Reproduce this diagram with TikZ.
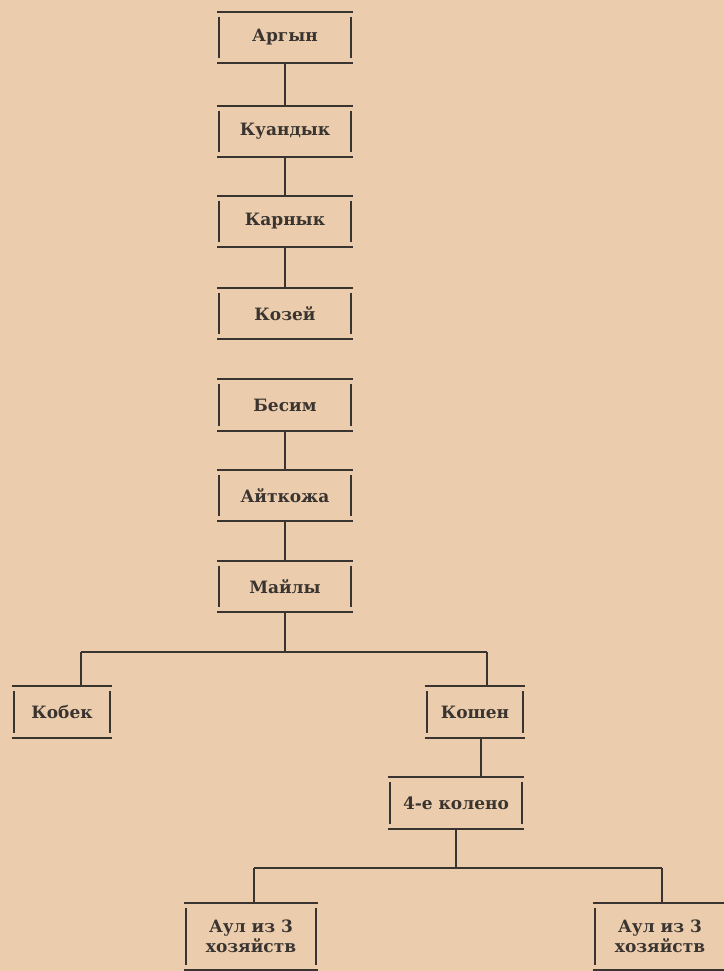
\documentclass[tikz,border=0pt]{standalone}
\usepackage{fontspec}
\setmainfont{DejaVu Serif}
\usetikzlibrary{positioning}
\definecolor{paper}{RGB}{235,205,173}
\definecolor{ink}{RGB}{58,52,48}
\tikzset{
  kinline/.style={draw=ink, line width=1pt},
  link/.style={draw=ink, line width=1pt},
  kin/.style={minimum width=67.5pt, minimum height=25.5pt, inner sep=1pt,
    text=ink, font=\bfseries\fontsize{8.5}{10}\selectfont, align=center,
    append after command={
      (\tikzlastnode.north west) edge[kinline] (\tikzlastnode.north east)
      (\tikzlastnode.south west) edge[kinline] (\tikzlastnode.south east)
      ([xshift=1pt,yshift=-2.5pt]\tikzlastnode.north west) edge[kinline] ([xshift=1pt,yshift=2.5pt]\tikzlastnode.south west)
      ([xshift=-1pt,yshift=-2.5pt]\tikzlastnode.north east) edge[kinline] ([xshift=-1pt,yshift=2.5pt]\tikzlastnode.south east)
    }}
}
\begin{document}
\begin{tikzpicture}[x=0.5pt, y=-0.5pt]
    \useasboundingbox (0,0) rectangle (724,971);
    \fill[paper] (0,0) rectangle (724,971);

    % Main line of descent
    \node[kin] (argyn) at (285,37.5) {Аргын};
    \node[kin] (kuandyk) at (285,131.5) {Куандык};
    \node[kin] (karnyk) at (285,221.5) {Карнык};
    \node[kin] (kozey) at (285,313.5) {Козей};
    \node[kin] (besim) at (285,405) {Бесим};
    \node[kin] (aitkozha) at (285,495.5) {Айткожа};
    \node[kin] (mayly) at (285,586.5) {Майлы};

    % Branches
    \node[kin, minimum width=50pt] (kobek) at (62,712) {Кобек};
    \node[kin, minimum width=50pt] (koshen) at (475,712) {Кошен};
    \node[kin, minimum width=68pt, minimum height=26pt] (koleno) at (456,803) {4-е колено};
    \node[kin, minimum width=67pt, minimum height=33.5pt] (aul1) at (251,936.5) {Аул из 3\\хозяйств};
    \node[kin, minimum width=67pt, minimum height=33.5pt] (aul2) at (660,936.5) {Аул из 3\\хозяйств};

    % Junction points
    \coordinate (barL) at (81,652);
    \coordinate (barR) at (487,652);
    \coordinate (kx) at (481,750);
    \coordinate (bar2L) at (254,868);
    \coordinate (bar2R) at (662,868);

    % Connections
    \draw[link] (argyn) -- (kuandyk);
    \draw[link] (kuandyk) -- (karnyk);
    \draw[link] (karnyk) -- (kozey);
    \draw[link] (besim) -- (aitkozha);
    \draw[link] (aitkozha) -- (mayly);
    \draw[link] (mayly) -- (mayly |- barL);
    \draw[link] (barL) -- (barR);
    \draw[link] (barL) -- (barL |- kobek.north);
    \draw[link] (barR) -- (barR |- koshen.north);
    \draw[link] (koshen.south -| kx) -- (koleno.north -| kx);
    \draw[link] (koleno) -- (koleno |- bar2L);
    \draw[link] (bar2L) -- (bar2R);
    \draw[link] (bar2L) -- (bar2L |- aul1.north);
    \draw[link] (bar2R) -- (bar2R |- aul2.north);
\end{tikzpicture}
\end{document}
